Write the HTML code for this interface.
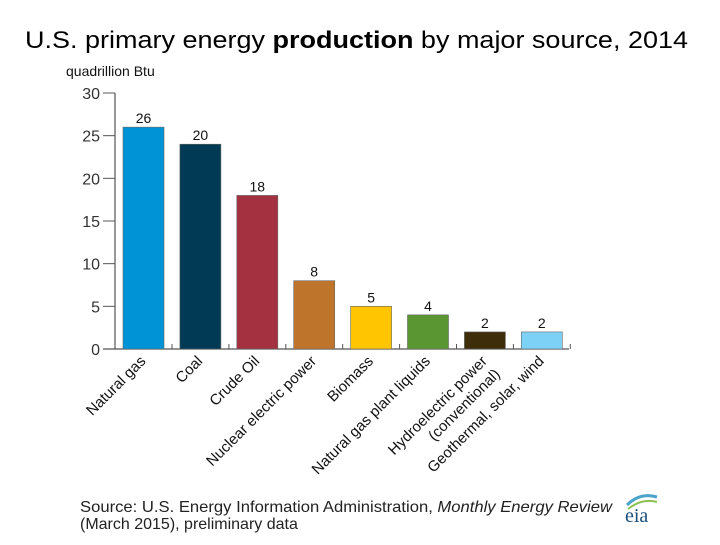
<!DOCTYPE html>
<html><head><meta charset="utf-8"><style>
body{margin:0;background:#fff;width:720px;height:540px;overflow:hidden;font-family:"Liberation Sans",sans-serif}
</style></head><body>
<svg width="720" height="540" xmlns="http://www.w3.org/2000/svg">
<text x="25" y="48" font-size="24" fill="#000" textLength="663" lengthAdjust="spacingAndGlyphs">U.S. primary energy <tspan font-weight="bold">production</tspan> by major source, 2014</text>
<text x="66" y="76" font-size="14" fill="#111">quadrillion Btu</text>
<g id="plot"></g>
<text x="80" y="512" font-size="16" fill="#222" textLength="532" lengthAdjust="spacingAndGlyphs">Source: U.S. Energy Information Administration, <tspan font-style="italic">Monthly Energy Review</tspan></text>
<text x="80" y="529" font-size="16" fill="#222">(March 2015), preliminary data</text>
<g>
<path d="M627 505 Q640 492 657 497" stroke="#4aa3c8" stroke-width="3" fill="none"/>
<path d="M628 509 Q642 498 657 502" stroke="#8cc152" stroke-width="2" fill="none"/>
<text x="625" y="522" font-family="Liberation Serif,serif" font-size="20" fill="#1a4f7a">eia</text>
</g>
</svg>
<script>
const categories=["Natural gas","Coal","Crude Oil","Nuclear electric power","Biomass","Natural gas plant liquids","Hydroelectric power|(conventional)","Geothermal, solar, wind"];
const values=[26,24,18,8,5,4,2,2];
const valueLabels=["26","20","18","8","5","4","2","2"];
const colors=["#0094d6","#003a54","#a3313f","#bf742c","#ffc500","#5a9632","#3d2d08","#7dd1f7"];
const yTicks=[0,5,10,15,20,25,30];
const NS="http://www.w3.org/2000/svg";
const g=document.getElementById("plot");
const x0=115,step=56.9,bw=41,y0=349,ppu=256/30;
const y=v=>y0-v*ppu;
function mk(t,a){const e=document.createElementNS(NS,t);for(const k in a)e.setAttribute(k,a[k]);g.appendChild(e);return e;}
let e=mk("line",{x1:x0,y1:y(30),x2:x0,y2:y0,stroke:"#555","stroke-width":1.2});


e=mk("line",{x1:103,y1:y0,x2:569,y2:y0,stroke:"#555","stroke-width":1.2});


yTicks.forEach(t=>{
 let l=mk("line",{x1:103,y1:y(t),x2:x0,y2:y(t),stroke:"#555","stroke-width":1});
 
 
 let tx=mk("text",{x:100,y:y(t)+6,"text-anchor":"end","font-size":16,fill:"#333"});
 tx.textContent=t;
 
 
});
categories.forEach((c,i)=>{
 const bx=x0+8+i*step, cx=bx+bw/2;
 let r=mk("rect",{x:bx,y:y(values[i]),width:bw,height:values[i]*ppu,fill:colors[i],stroke:"#666","stroke-width":0.6});
 
 
 let v=mk("text",{x:cx,y:y(values[i])-4,"text-anchor":"middle","font-size":14,fill:"#111"});
 v.textContent=valueLabels[i];
 
 
 let tk=mk("line",{x1:bx+bw+8,y1:y0-5,x2:bx+bw+8,y2:y0,stroke:"#555"});
 
 
 const lines=c.split("|");
 lines.forEach((ln,j)=>{
  const ax=cx+3+j*13, ay=362+j*13;
  let t=mk("text",{x:ax,y:ay,"text-anchor":"end","font-size":15,fill:"#111",transform:`rotate(-45 ${ax} ${ay})`});
  t.textContent=ln;
  
  
 });
});
</script>
</body></html>
